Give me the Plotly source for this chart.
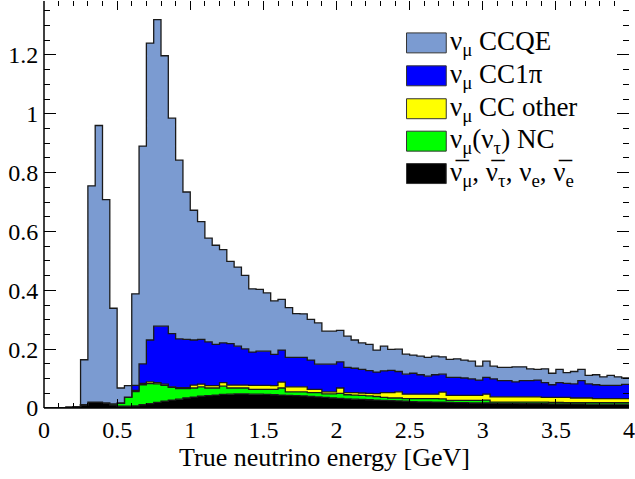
import numpy as np
import plotly.graph_objects as go

# ---------------- data (stacked contributions per 0.05 GeV bin, 0..4 GeV) ----------------
bin_width = 0.05
n_bins = 80

other_nu = [0, 0, 0, .002, .005, .011, .020, .020, .017, .010,
            .006, .006, .007, .011, .015, .019, .023, .027, .030, .034,
            .037, .040, .042, .044, .046, .047, .048, .048, .047, .047,
            .046, .045, .044, .043, .042, .041, .039, .038, .036, .034,
            .033, .031, .030, .029, .028, .027, .026, .025, .024, .023,
            .022, .021, .021, .020, .020, .019, .018, .018, .017, .017,
            .017, .016, .016, .016, .016, .015, .015, .015, .015, .014,
            .014, .014, .014, .014, .013, .013, .013, .013, .013, .013]

nc = [0, 0, 0, 0, 0, 0, 0, 0, 0, .004,
      .011, .031, .049, .068, .068, .063, .054, .043, .036, .032,
      .031, .032, .026, .024, .028, .021, .020, .020, .016, .016,
      .017, .018, .024, .012, .013, .014, .013, .014, .012, .014,
      .017, .014, .014, .014, .013, .012, .010, .009, .010, .009,
      .010, .011, .011, .012, .011, .007, .008, .008, .009, .009,
      .010, .004, .004, .004, .004, .005, .005, .005, .005, .005,
      .005, .004, .004, .004, .005, .005, .005, .005, .005, .005]

cc_other = [0, 0, 0, 0, 0, 0, 0, 0, 0, 0,
            0, 0, .004, .005, .006, .004, .004, .002, .003, .003,
            .010, .009, .008, .008, .012, .010, .010, .010, .014, .014,
            .014, .013, .020, .017, .017, .017, .011, .011, .007, .007,
            .018, .007, .008, .008, .009, .010, .016, .018, .021, .015,
            .015, .015, .015, .015, .023, .017, .017, .017, .017, .017,
            .020, .018, .018, .018, .018, .018, .018, .018, .016, .017,
            .017, .018, .016, .016, .016, .014, .014, .014, .014, .014]

cc1pi = [0, 0, 0, 0, 0, 0, 0, 0, 0, 0,
         0, 0, .017, .066, .142, .192, .197, .181, .166, .164,
         .153, .152, .149, .140, .135, .141, .132, .123, .113, .116,
         .116, .106, .109, .100, .100, .100, .100, .086, .094, .094,
         .089, .086, .083, .080, .077, .073, .074, .076, .069, .068,
         .071, .066, .061, .066, .061, .061, .061, .059, .056, .052,
         .057, .061, .055, .055, .051, .055, .055, .057, .050, .043,
         .050, .048, .048, .059, .048, .047, .045, .045, .045, .048]

ccqe = [0, 0, 0, 0, 0, .153, .735, .940, .691, .325,
        .051, .039, .311, .740, 1.009, 1.042, .919, .732, .607, .501,
        .441, .400, .352, .337, .317, .279, .269, .250, .215, .210,
        .198, .182, .172, .169, .149, .148, .138, .140, .112, .112,
        .107, .106, .096, .090, .089, .075, .084, .071, .076, .068,
        .062, .063, .064, .063, .059, .061, .063, .061, .060, .047,
        .055, .043, .045, .045, .051, .047, .040, .036, .047, .039,
        .045, .036, .042, .038, .029, .034, .029, .034, .029, .022]

labels = ["ν<sub>μ</sub> CCQE",
          "ν<sub>μ</sub> CC1π",
          "ν<sub>μ</sub> CC other",
          "ν<sub>μ</sub>(ν<sub>τ</sub>) NC",
          "ν\u0305<sub>μ</sub>, ν\u0305<sub>τ</sub>, ν<sub>e</sub>, ν\u0305<sub>e</sub>"]
series = [ccqe, cc1pi, cc_other, nc, other_nu]
colors = ["#7b9bd1", "#0000ff", "#ffff00", "#00ff00", "#000000"]

# ---------------- figure ----------------
edges = np.round(np.arange(n_bins + 1) * bin_width, 4)

fig = go.Figure()
# bottom-most first for stacking
for vals, lab, col in reversed(list(zip(series, labels, colors))):
    y = list(vals) + [vals[-1]]
    fig.add_trace(go.Scatter(
        x=edges, y=y, name=lab, stackgroup="one", mode="lines",
        line=dict(shape="hv", color="#1a1a1a", width=1.3),
        fillcolor=col, showlegend=False, hoverinfo="skip"))

W, H = 635, 479
L, R, T, B = 44, 2, 0, 71
pw, ph = W - L - R, H - T - B

font_family = "'Liberation Serif', 'Times New Roman', Times, serif"
tickfont = dict(family=font_family, size=24, color="black")
NOLINE = "rgba(0,0,0,0)"

fig.update_layout(
    width=W, height=H,
    margin=dict(l=L, r=R, t=T, b=B),
    paper_bgcolor="white", plot_bgcolor="white",
    showlegend=False,
    font=dict(family=font_family, color="black"),
    xaxis=dict(range=[0, 4], showgrid=False, zeroline=False,
               showline=True, linecolor=NOLINE, mirror="ticks",
               ticks="inside", ticklen=9, tickwidth=1, tickcolor="black",
               dtick=0.5, tick0=0, tickfont=tickfont, ticklabeloverflow="allow",
               minor=dict(dtick=0.1, ticks="inside", ticklen=5, tickcolor="black", tickwidth=1)),
    yaxis=dict(range=[0, 1.383], showgrid=False, zeroline=False,
               showline=True, linecolor=NOLINE, mirror="ticks",
               ticks="inside", ticklen=12, tickwidth=1, tickcolor="black",
               dtick=0.2, tick0=0, tickfont=tickfont, ticklabeloverflow="allow",
               minor=dict(dtick=0.05, ticks="inside", ticklen=6, tickcolor="black", tickwidth=1)),
)

# frame: only bottom and left lines are visible in the original
fig.add_shape(type="line", xref="paper", yref="paper", x0=0, x1=1, y0=0, y1=0,
              line=dict(color="black", width=1.5), layer="above")
fig.add_shape(type="line", xref="paper", yref="paper", x0=0, x1=0, y0=0, y1=1,
              line=dict(color="black", width=1.5), layer="above")

# axis title
fig.add_annotation(text="True neutrino energy [GeV]", xref="paper", yref="paper",
                   x=(326 - L) / pw, y=(ph - (458 - T)) / ph, xanchor="center", yanchor="middle",
                   showarrow=False, font=dict(family=font_family, size=26, color="black"))

# legend (manual, ROOT style boxes)
row_px = [42, 75, 108, 140.5, 173]
box_x0, box_x1, box_h = 409, 449, 20
for lab, col, yc in zip(labels, colors, row_px):
    fig.add_shape(type="rect", xref="paper", yref="paper",
                  x0=(box_x0 - L) / pw, x1=(box_x1 - L) / pw,
                  y0=(ph - (yc + box_h / 2 - T)) / ph, y1=(ph - (yc - box_h / 2 - T)) / ph,
                  fillcolor=col, line=dict(color="#333333", width=1))
    fig.add_annotation(text=lab, xref="paper", yref="paper",
                       x=(box_x1 + 2 - L) / pw, y=(ph - (yc - T)) / ph,
                       xanchor="left", yanchor="middle", showarrow=False,
                       font=dict(family=font_family, size=27, color="black"))

fig.write_html("out.html")
